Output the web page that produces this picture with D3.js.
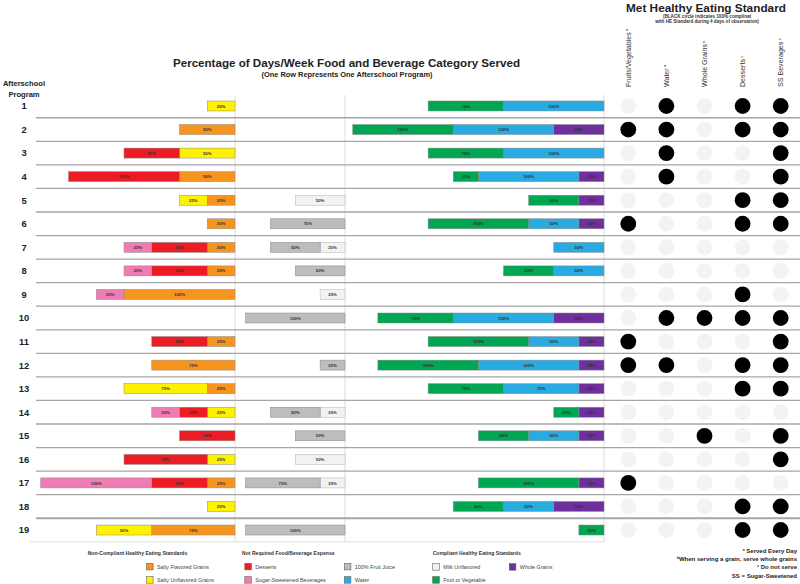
<!DOCTYPE html>
<html><head><meta charset="utf-8">
<script src="https://cdn.jsdelivr.net/npm/d3@7"></script>
<style>
html,body{margin:0;padding:0;background:#fff;}
svg{display:block;font-family:"Liberation Sans",Arial,sans-serif;}
</style></head>
<body><svg id="c" width="800" height="584"></svg>
<script>
// ---------- DATA ----------
const programs = ["1","2","3","4","5","6","7","8","9","10","11","12","13","14","15","16","17","18","19"];
// Left panel (non-compliant + not required), percent of days
const saltyFlavored   = [0,50,0,50,25,25,25,25,100,0,25,75,25,0,0,0,25,0,75];
const saltyUnflavored = [25,0,50,0,25,0,0,0,0,0,0,0,75,25,0,25,0,25,50];
const desserts        = [0,0,50,100,0,0,50,50,0,0,50,0,0,25,50,75,50,0,0];
const sugarBev        = [0,0,0,0,0,0,25,25,25,0,0,0,0,25,0,0,100,0,0];
// Middle panel
const milkUnflavored  = [0,0,0,0,50,0,25,0,25,0,0,0,0,25,0,50,25,0,0];
const fruitJuice      = [0,0,0,0,0,75,50,50,0,100,0,25,0,50,50,0,75,0,100];
// Right panel
const fruitVeg        = [75,100,75,25,50,100,0,50,0,75,100,100,75,25,50,0,100,50,25];
const water           = [100,100,100,100,0,50,50,50,0,100,50,100,75,0,50,0,0,50,0];
const wholeGrains     = [0,50,0,25,25,25,0,0,0,50,25,25,25,25,25,0,25,50,0];
// Met standard (1 = 100% compliant)
const standardCols = ["Fruits/Vegetables","Water","Whole Grains","Desserts","SS Beverages"];
const standardSup  = ["a","a","b","c","c"];
const fvMet       = [0,1,0,0,0,1,0,0,0,0,1,1,0,0,0,0,1,0,0];
const waterMet    = [1,1,1,1,0,0,0,0,0,1,0,1,0,0,0,0,0,0,0];
const wgMet       = [0,0,0,0,0,0,0,0,0,1,0,0,0,0,1,0,0,0,0];
const dessertsMet = [1,1,0,0,1,1,0,0,1,1,0,1,1,0,0,0,0,1,1];
const ssbMet      = [1,1,1,1,1,1,0,0,0,1,1,1,1,0,1,1,0,1,1];

const colors = {
  saltyFlavored:"#f7941d", saltyUnflavored:"#fff200", desserts:"#ed1c24", sugarBev:"#f07cb4",
  fruitJuice:"#bdbdbd", milkUnflavored:"#f2f2f2", water:"#29abe2", fruitVeg:"#00a651", wholeGrains:"#6f2f9f"
};

const svg = d3.select("#c");
svg.append("rect").attr("width",800).attr("height",584).attr("fill","#fff");

const rowBand = d3.scaleBand().domain(programs).range([94.2,541.8]);
const yc = p => rowBand(p) + rowBand.bandwidth()/2;

// Panel scales
const xLeft  = d3.scaleLinear().domain([0,100]).range([0,111]);
const xMid   = d3.scaleLinear().domain([0,100]).range([0,99.5]);
const xRight = d3.scaleLinear().domain([0,100]).range([0,100.5]);

const rows = programs.map((p,i)=>({program:p,
  saltyFlavored:saltyFlavored[i], saltyUnflavored:saltyUnflavored[i], desserts:desserts[i], sugarBev:sugarBev[i],
  milkUnflavored:milkUnflavored[i], fruitJuice:fruitJuice[i],
  wholeGrains:wholeGrains[i], water:water[i], fruitVeg:fruitVeg[i]}));

// vertical panel lines
const vlines = [235,345,604];
svg.selectAll(".vl").data(vlines).join("line")
  .attr("x1",d=>d).attr("x2",d=>d).attr("y1",95).attr("y2",542)
  .attr("stroke","#dcdcdc").attr("stroke-width",1);

// row separators
programs.slice(0,-1).forEach((p,i)=>{
  const y = rowBand(p)+rowBand.bandwidth();
  svg.append("line").attr("x1",36).attr("x2",800).attr("y1",y).attr("y2",y)
    .attr("stroke","#a6a6a6").attr("stroke-width", i===17?2.2:1.3);
});
svg.append("line").attr("x1",30).attr("x2",604).attr("y1",541.8).attr("y2",541.8)
  .attr("stroke","#dedede").attr("stroke-width",1);

function panel(keys, scale, edge){
  const stack = d3.stack().keys(keys)(rows);
  const g = svg.append("g");
  stack.forEach(layer=>{
    const key = layer.key;
    layer.forEach((d,i)=>{
      const v = d[1]-d[0];
      if(v<=0) return;
      const x0 = edge - scale(d[1]), x1 = edge - scale(d[0]);
      const y = yc(programs[i]);
      g.append("rect").attr("x",x0).attr("y",y-5).attr("width",x1-x0).attr("height",10)
        .attr("fill",colors[key]).attr("stroke",key==="milkUnflavored"?"#b5b5b5":"#8a8a8a").attr("stroke-width",0.5);
      g.append("text").attr("x",(x0+x1)/2).attr("y",y+1.6).attr("text-anchor","middle")
        .attr("font-size",4.3).attr("font-weight","bold").attr("fill","#333").text(v+"%");
    });
  });
}
panel(["saltyFlavored","saltyUnflavored","desserts","sugarBev"], xLeft, 235);
panel(["milkUnflavored","fruitJuice"], xMid, 345);
panel(["wholeGrains","water","fruitVeg"], xRight, 604);

// row labels
svg.selectAll(".rl").data(programs).join("text")
  .attr("x",24).attr("y",p=>yc(p)+3.4).attr("text-anchor","middle")
  .attr("font-size",9.4).attr("font-weight","bold").attr("fill","#222").text(p=>p);
svg.append("text").attr("x",24).attr("y",86).attr("text-anchor","middle").attr("font-size",7.6)
  .attr("font-weight","bold").attr("fill","#222").text("Afterschool");
svg.append("text").attr("x",24).attr("y",97).attr("text-anchor","middle").attr("font-size",7.6)
  .attr("font-weight","bold").attr("fill","#222").text("Program");

// Titles
svg.append("text").attr("x",346.5).attr("y",67).attr("text-anchor","middle").attr("font-size",11.6)
  .attr("font-weight","bold").attr("fill","#222").text("Percentage of Days/Week Food and Beverage Category Served");
svg.append("text").attr("x",347).attr("y",76.5).attr("text-anchor","middle").attr("font-size",7.4)
  .attr("font-weight","bold").attr("fill","#222").text("(One Row Represents One Afterschool Program)");
svg.append("text").attr("x",706).attr("y",12).attr("text-anchor","middle").attr("font-size",11.8)
  .attr("font-weight","bold").attr("fill","#222").text("Met Healthy Eating Standard");
svg.append("text").attr("x",707).attr("y",17.8).attr("text-anchor","middle").attr("font-size",4.6)
  .attr("font-weight","bold").attr("fill","#333").text("(BLACK circle indicates 100% complinat");
svg.append("text").attr("x",707).attr("y",23.4).attr("text-anchor","middle").attr("font-size",4.6)
  .attr("font-weight","bold").attr("fill","#333").text("with HE Standard during 4 days of observation)");

// Circles
const xCol = d3.scalePoint().domain(standardCols).range([628.3,780.7]);
const metCols = [fvMet, waterMet, wgMet, dessertsMet, ssbMet];
standardCols.forEach((c,j)=>{
  const t = svg.append("text").attr("transform",`translate(${xCol(c)+2.5},87) rotate(-90)`)
    .attr("font-size",7.1).attr("fill","#333");
  t.append("tspan").text(c);
  t.append("tspan").attr("dx",1.3).attr("dy",-2.5).attr("font-size",4).text(standardSup[j]);
  programs.forEach((p,i)=>{
    svg.append("circle").attr("cx",xCol(c)).attr("cy",yc(p)).attr("r",7.9)
      .attr("fill", metCols[j][i] ? "#000" : "#f3f3f3");
  });
});

// Legends
function legTitle(x,y,txt,anchor){svg.append("text").attr("x",x).attr("y",y).attr("text-anchor",anchor||"start")
  .attr("font-size",5.1).attr("font-weight","bold").attr("fill","#333").text(txt);}
function legItem(x,y,key,txt){
  svg.append("rect").attr("x",x).attr("y",y-3.4).attr("width",6.6).attr("height",6.6)
    .attr("fill",colors[key]).attr("stroke","#666").attr("stroke-width",0.6);
  svg.append("text").attr("x",x+10.5).attr("y",y+2).attr("font-size",5.4).attr("fill","#444").text(txt);
}
legTitle(137.5,555,"Non-Compliant Healthy Eating Standards","middle");
legItem(146.5,566.7,"saltyFlavored","Salty Flavored Grains");
legItem(146.5,580,"saltyUnflavored","Salty Unflavored Grains");
legTitle(242,555,"Not Required Food/Beverage Expense");
legItem(244.8,566.7,"desserts","Desserts");
legItem(244.8,580,"sugarBev","Sugar-Sweetened Beverages");
legItem(344.3,566.7,"fruitJuice","100% Fruit Juice");
legItem(344.3,580,"water","Water");
legTitle(432.7,555,"Compliant Healthy Eating Standards");
legItem(432.7,567,"milkUnflavored","Milk Unflavored");
legItem(509.3,567,"wholeGrains","Whole Grains");
legItem(432.7,580,"fruitVeg","Fruit or Vegetable");

// Footnotes
const notes = [["a"," Served Every Day"],["b","When serving a grain, serve whole grains"],["c"," Do not serve"],["","SS = Sugar-Sweetened"]];
notes.forEach((n,i)=>{
  const t = svg.append("text").attr("x",797).attr("y",553+i*8.2).attr("text-anchor","end")
    .attr("font-size",6).attr("font-weight","bold").attr("fill","#222");
  if(n[0]) t.append("tspan").attr("font-size",3.6).attr("dy",-2).text(n[0]);
  t.append("tspan").attr("dy",n[0]?2:0).text(n[1]);
});
</script></body></html>
